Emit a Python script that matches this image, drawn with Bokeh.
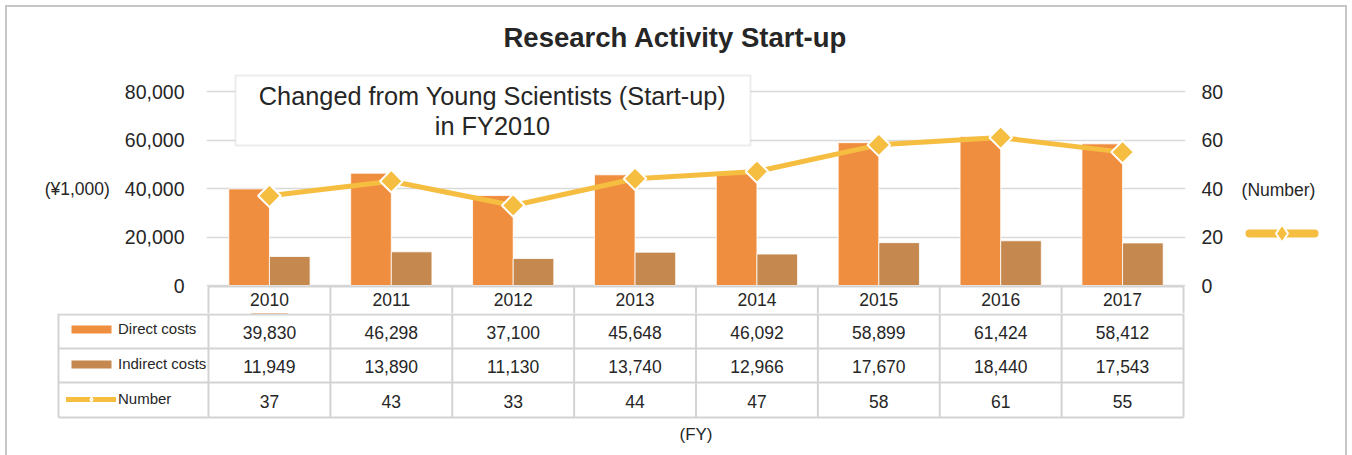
from bokeh.plotting import figure
from bokeh.layouts import column, row
from bokeh.models import (Range1d, LinearAxis, FixedTicker, NumeralTickFormatter, Label,
                          BoxAnnotation, ColumnDataSource, Legend, LegendItem)
from bokeh.core.properties import value
from bokeh.transform import dodge
from bokeh.embed import file_html
from bokeh.resources import INLINE

# ---------------- data ----------------
years = [2010, 2011, 2012, 2013, 2014, 2015, 2016, 2017]
direct_costs = [39830, 46298, 37100, 45648, 46092, 58899, 61424, 58412]
indirect_costs = [11949, 13890, 11130, 13740, 12966, 17670, 18440, 17543]
numbers = [37, 43, 33, 44, 47, 58, 61, 55]
cost_ticks = [0, 20000, 40000, 60000, 80000]
number_ticks = [0, 20, 40, 60, 80]
series_names = ["Direct costs", "Indirect costs", "Number"]
title_text = "Research Activity Start-up"
note_lines = ["Changed from Young Scientists (Start-up)", "in FY2010"]
left_unit = "(\u00a51,000)"
right_unit = "(Number)"
x_unit = "(FY)"

# ---------------- style ----------------
FONT = "Liberation Sans"
TXT = "#262626"
C_DIRECT = "#F08E40"
C_INDIRECT = "#C5884F"
C_NUMBER = "#F5BE41"
GRID = "#D9D9D9"
TABLE = "#D3D3D3"
BOXLINE = "#BFBFBF"

# page-pixel layout
W_TOTAL, H_TOTAL = 1352, 455
W_A, H_A = 1240, 313            # main chart
W_C = W_TOTAL - W_A             # right strip (unit + key)
H_B = H_TOTAL - H_A             # data table
PL, PR = 208, 1183              # plot area left/right
Y0, Y80 = 285, 91               # page y of 0 and of the top tick
colw = (PR - PL) / len(years)
per_px = cost_ticks[-1] / (Y0 - Y80)
A_TOP = 63
A_FL, A_FR = PL - 2, PR + 2

src = ColumnDataSource(dict(
    year=years, direct=direct_costs, indirect=indirect_costs, number=numbers,
    year_txt=[str(y) for y in years],
    direct_txt=[f"{v:,}" for v in direct_costs],
    indirect_txt=[f"{v:,}" for v in indirect_costs],
    number_txt=[f"{v:,}" for v in numbers],
))
bounds = [y - 0.5 for y in years] + [years[-1] + 0.5]

# ================= main chart =================
pA = figure(width=W_A, height=H_A, output_backend="svg", toolbar_location=None,
            x_axis_location=None,
            x_range=Range1d(bounds[0] - (PL - A_FL) / colw, bounds[-1] + (A_FR - PR) / colw),
            y_range=Range1d(-(H_A - Y0) * per_px, (Y0 - A_TOP) * per_px),
            min_border_left=A_FL, min_border_right=W_A - A_FR,
            min_border_top=A_TOP, min_border_bottom=0)
pA.extra_y_ranges = {"num": Range1d(-(H_A - Y0) * per_px / 1000, (Y0 - A_TOP) * per_px / 1000),
                     "py": Range1d(H_A, A_TOP)}
pA.extra_x_ranges = {"px": Range1d(A_FL, A_FR)}
pA.outline_line_color = None
pA.background_fill_alpha = 0
pA.border_fill_alpha = 0

pA.title.text = title_text
pA.title.text_font = FONT
pA.title.text_font_size = "27.5px"
pA.title.text_font_style = "bold"
pA.title.text_color = TXT
pA.title.align = "left"
pA.title.offset = 297
pA.title.standoff = 21

yax = pA.yaxis[0]
yax.ticker = FixedTicker(ticks=cost_ticks)
yax.formatter = NumeralTickFormatter(format="0,0")
yax.axis_line_color = None
yax.major_tick_line_color = None
yax.minor_tick_line_color = None
yax.major_tick_out = 0
yax.major_tick_in = 0
yax.major_label_standoff = 24 - (PL - A_FL)
yax.major_label_text_font = FONT
yax.major_label_text_font_size = "19.5px"
yax.major_label_text_color = TXT
yax.axis_label = left_unit
yax.axis_label_orientation = "horizontal"
yax.axis_label_standoff = 12
yax.axis_label_text_font = FONT
yax.axis_label_text_font_size = "17.5px"
yax.axis_label_text_font_style = "normal"
yax.axis_label_text_color = TXT

rax = LinearAxis(y_range_name="num", ticker=FixedTicker(ticks=number_ticks))
rax.axis_line_color = None
rax.major_tick_line_color = None
rax.minor_tick_line_color = None
rax.major_tick_out = 0
rax.major_tick_in = 0
rax.major_label_standoff = 18 - (A_FR - PR)
rax.major_label_text_font = FONT
rax.major_label_text_font_size = "19.5px"
rax.major_label_text_color = TXT
pA.add_layout(rax, "right")

pA.xgrid.visible = False
pA.ygrid.ticker = FixedTicker(ticks=cost_ticks)
pA.ygrid.grid_line_color = GRID
pA.ygrid.grid_line_width = 1.5

pA.vbar(x=dodge("year", -1 / 6, range=pA.x_range), top="direct", width=1 / 3, source=src,
        fill_color=C_DIRECT, line_color="white", line_width=0.8)
pA.vbar(x=dodge("year", 1 / 6, range=pA.x_range), top="indirect", width=1 / 3, source=src,
        fill_color=C_INDIRECT, line_color="white", line_width=0.8)
pA.line("year", "number", source=src, y_range_name="num", line_color=C_NUMBER,
        line_width=5, line_join="round", line_cap="round")
pA.scatter("year", "number", source=src, y_range_name="num", marker="square",
           angle=0.7853981634, size=16, fill_color=C_NUMBER, line_color="white", line_width=2)

# note box
pA.add_layout(BoxAnnotation(left=235, right=750, top=75, bottom=145, x_range_name="px", y_range_name="py",
                            fill_color="white", fill_alpha=1, line_color=BOXLINE, line_width=2))
for txt, yc in zip(note_lines, [95.5, 125]):
    pA.add_layout(Label(x=492, y=yc, x_range_name="px", y_range_name="py", text=txt,
                        text_align="center", text_baseline="middle", text_font=FONT,
                        text_font_size="25.3px", text_color=TXT))

# table header row (years)
pA.segment(x0=[bounds[0]], x1=[bounds[-1]], y0=[286], y1=[286], y_range_name="py",
           line_color=TABLE, line_width=2)
pA.segment(x0=bounds, x1=bounds, y0=[286] * len(bounds), y1=[H_A] * len(bounds), y_range_name="py",
           line_color=TABLE, line_width=2)
pA.text(x="year", y=298.5, text="year_txt", source=src, y_range_name="py",
        text_align="center", text_baseline="middle", text_font=value(FONT),
        text_font_size="17.5px", text_color=TXT)

# ================= right strip: unit + key =================
pC = figure(width=W_C, height=H_A, output_backend="svg", toolbar_location=None,
            x_axis_location=None, y_axis_location=None,
            x_range=Range1d(W_A, W_TOTAL), y_range=Range1d(H_A, A_TOP),
            min_border_left=0, min_border_right=0, min_border_top=A_TOP, min_border_bottom=0)
pC.outline_line_color = None
pC.background_fill_alpha = 0
pC.border_fill_alpha = 0
pC.grid.visible = False
pC.text(x=[1278], y=[189], text=[right_unit], text_align="center", text_baseline="middle",
        text_font=value(FONT), text_font_size="17.5px", text_color=TXT)
pC.segment(x0=[1249], x1=[1314], y0=[233], y1=[233], line_color=C_NUMBER, line_width=8, line_cap="round")
pC.scatter(x=[1281.5], y=[233], marker="diamond", size=18, fill_color=C_NUMBER,
           line_color="white", line_width=2)

# ================= data table =================
B_FL, B_FR = 56, PR + 3
xL = bounds[0] - (PL - 58) / colw
pB = figure(width=W_TOTAL, height=H_B, output_backend="svg", toolbar_location=None,
            x_axis_location=None, y_axis_location=None,
            x_range=Range1d(bounds[0] - (PL - B_FL) / colw, bounds[-1] + (B_FR - PR) / colw),
            y_range=Range1d(H_TOTAL, H_A),
            min_border_left=B_FL, min_border_right=W_TOTAL - B_FR, min_border_top=0, min_border_bottom=0)
pB.outline_line_color = None
pB.background_fill_alpha = 0
pB.border_fill_alpha = 0
pB.grid.visible = False

row_lines = [314, 348, 382, 417]
pB.segment(x0=[xL] * len(row_lines), x1=[bounds[-1]] * len(row_lines), y0=row_lines, y1=row_lines,
           line_color=TABLE, line_width=2)
vx = [xL] + bounds
pB.segment(x0=vx, x1=vx, y0=[H_A] * len(vx), y1=[417] * len(vx), line_color=TABLE, line_width=2)

for field, yc in [("direct_txt", 331.5), ("indirect_txt", 366), ("number_txt", 401)]:
    pB.text(x="year", y=yc, text=field, source=src, text_align="center", text_baseline="middle",
            text_font=value(FONT), text_font_size="17.5px", text_color=TXT)

pB.text(x=[(years[0] + years[-1]) / 2], y=[433.5], text=[x_unit], text_align="center",
        text_baseline="middle", text_font=value(FONT), text_font_size="17px", text_color=TXT)

# legend keys: styled like the chart's series, their single datum lies outside the table's view
key_src = ColumnDataSource(dict(x=[years[0]], y=[0]))
k_dc = pB.vbar(x="x", top="y", bottom="y", width=0.3, source=key_src, fill_color=C_DIRECT, line_color=None)
k_ic = pB.vbar(x="x", top="y", bottom="y", width=0.3, source=key_src, fill_color=C_INDIRECT, line_color=None)
k_ln = pB.line(x="x", y="y", source=key_src, line_color=C_NUMBER, line_width=5, line_cap="round")
k_mk = pB.scatter(x="x", y="y", source=key_src, marker="diamond", size=10, fill_color=C_NUMBER,
                  line_color="white", line_width=1.5)
legend = Legend(items=[LegendItem(label=series_names[0], renderers=[k_dc]),
                       LegendItem(label=series_names[1], renderers=[k_ic]),
                       LegendItem(label=series_names[2], renderers=[k_ln, k_mk])],
                location=(66 - B_FL, H_TOTAL - 409), orientation="vertical",
                glyph_width=50, glyph_height=10, label_height=21, label_standoff=2, spacing=14,
                padding=0, margin=0, border_line_color=None, background_fill_alpha=0,
                label_text_font=FONT, label_text_font_size="15px", label_text_color=TXT)
pB.add_layout(legend)

layout = column(row(pA, pC), pB, styles={
    "background-color": "white",
    "background-image": ("linear-gradient(#C6C6C6, #C6C6C6), linear-gradient(#C6C6C6, #C6C6C6), "
                         "linear-gradient(#C6C6C6, #C6C6C6)"),
    "background-size": "1342px 2px, 2px 470px, 2px 470px",
    "background-position": "5px 5px, 5px 5px, 1345px 5px",
    "background-repeat": "no-repeat",
})

open("out.html", "w").write(file_html(layout, INLINE))
